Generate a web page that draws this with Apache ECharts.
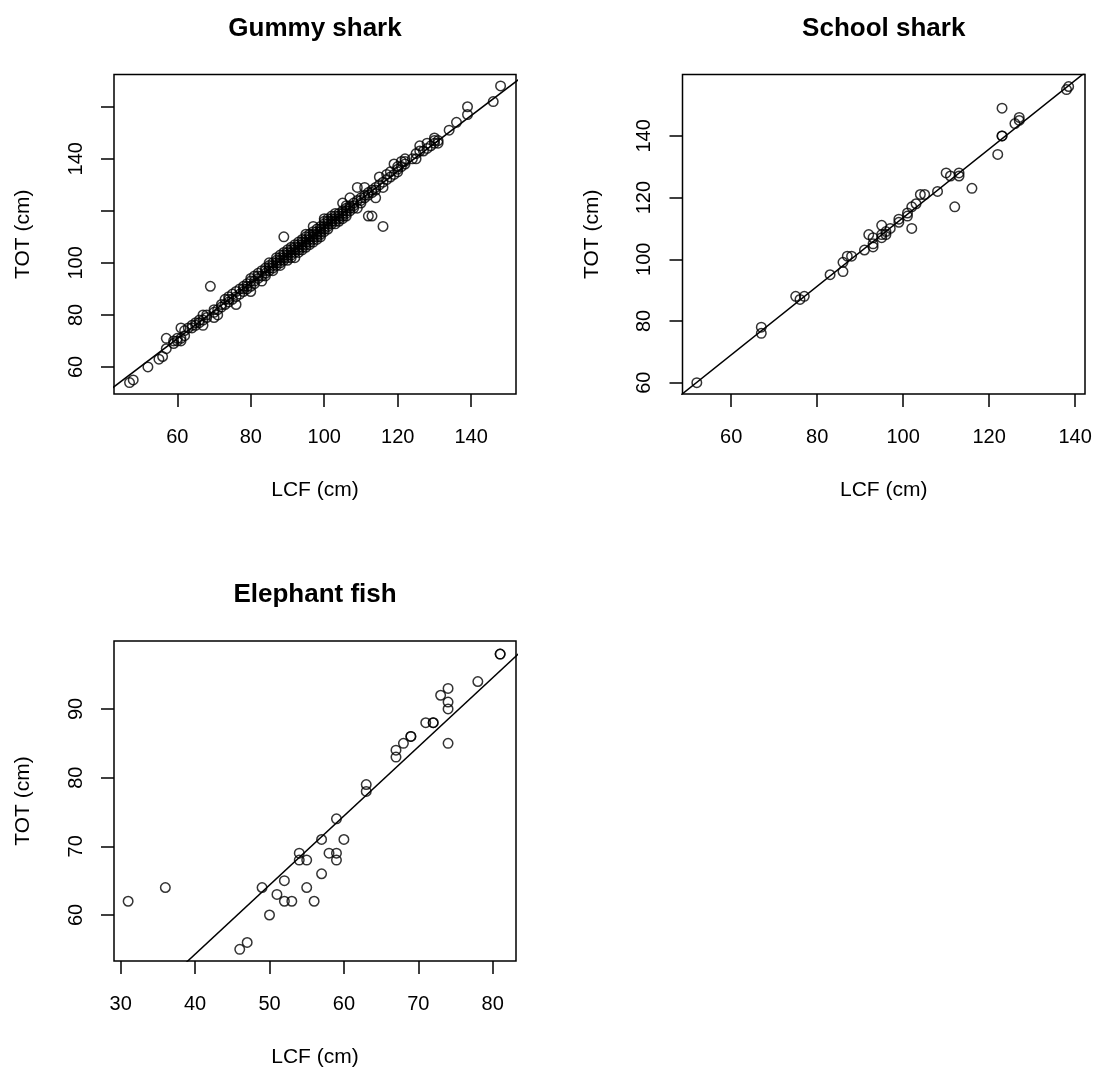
<!DOCTYPE html>
<html>
<head>
<meta charset="utf-8">
<script src="https://cdn.jsdelivr.net/npm/echarts@6/dist/echarts.min.js"></script>
<style>
html,body{margin:0;padding:0;background:#fff;}
#chart{width:1095px;height:1070px;}
</style>
</head>
<body>
<div id="chart"></div>
<script>
// ---------------- DATA ----------------
const panelTitles = ['Gummy shark', 'School shark', 'Elephant fish'];
const xAxisTitle = 'LCF (cm)';
const yAxisTitle = 'TOT (cm)';

// [LCF, TOT] pairs
const gummy = [
  [47,54],[48,55],[52,60],[55,63],[56,64],[57,67],[57,71],[59,69],[59,70],[60,70],[60,71],[61,70],[61,71],[62,72],[61,75],
  [63,75],[64,75],[65,76],[65,77],[66,77],[67,76],[67,78],[68,79],[67,80],[69,91],[70,79],[70,81],[71,82],[71,80],[72,83],
  [73,84],[73,86],[74,85],[74,87],[75,86],[75,88],[76,84],[76,89],[77,88],[77,90],[78,89],[78,91],[79,90],[79,92],[80,89],
  [80,93],[80,94],[81,93],[81,95],[82,94],[82,96],[83,93],[83,95],[83,97],[84,95],[84,97],[84,98],[85,97],[85,99],[85,100],
  [86,97],[86,98],[86,100],[87,99],[87,101],[87,102],[88,100],[88,101],[88,102],[88,103],[89,110],[89,101],[89,103],[89,104],
  [90,102],[90,103],[90,104],[90,105],[91,103],[91,105],[91,106],[92,102],[92,104],[92,106],[92,107],[93,105],[93,107],[93,108],
  [94,106],[94,107],[94,108],[94,109],[95,107],[95,108],[95,110],[95,111],[96,107],[96,109],[96,110],[96,111],[97,109],[97,111],
  [97,112],[97,114],[98,110],[98,111],[98,112],[98,113],[99,111],[99,112],[99,113],[99,114],[100,112],[100,114],[100,115],[100,117],
  [101,114],[101,115],[101,116],[102,115],[102,116],[102,118],[103,116],[103,117],[103,119],[104,116],[104,118],[104,119],[105,117],
  [105,120],[105,123],[106,118],[106,120],[106,121],[107,120],[107,122],[107,125],[108,121],[108,123],[109,121],[109,124],[109,129],
  [110,123],[110,125],[111,125],[111,126],[111,129],[112,118],[113,118],[112,126],[113,127],[114,125],[114,129],[114,128],[115,130],
  [115,133],[116,114],[116,129],[116,131],[117,134],[118,133],[119,134],[119,138],[120,135],[120,137],[121,137],[121,139],[122,139],
  [122,140],[125,140],[125,142],[126,145],[126,143],[127,143],[128,144],[130,147],[130,148],[131,146],[131,147],[134,151],[136,154],
  [139,157],[139,160],[146,162],[148,168],
  [84,96],[85,98],[86,99],[87,100],[88,99],[89,102],[90,101],[91,104],[91,102],[92,105],[93,106],[93,104],[94,105],[95,109],
  [95,106],[96,108],[97,110],[97,108],[98,109],[99,110],[100,113],[100,116],[101,113],[101,117],[102,117],[103,118],[103,115],
  [104,117],[105,119],[105,118],[106,119],[106,122],[107,121],[108,122],[80,91],[81,92],[82,95],[79,91],[78,90],[76,87],[74,86],
  [72,84],[70,82],[68,80],[66,78],[64,76],[62,74],[110,124],[112,127],[113,128],[117,132],[118,135],[120,136],[122,138],
  [124,140],[128,146],[129,145],[130,146]
];
const school = [
  [52,60],[67,78],[67,76],[75,88],[76,87],[77,88],[83,95],[86,99],[86,96],[87,101],[88,101],[91,103],[92,108],[93,107],[93,105],
  [93,104],[95,111],[95,108],[95,107],[96,109],[96,108],[97,110],[99,113],[99,112],[101,115],[101,114],[102,110],[102,117],[103,118],
  [104,121],[105,121],[108,122],[110,128],[111,127],[113,128],[113,127],[112,117],[116,123],[122,134],[123,149],[123,140],[123,140],
  [126,144],[127,145],[127,146],[138,155],[138.5,156]
];
const elephant = [
  [31,62],[36,64],[46,55],[47,56],[49,64],[50,60],[51,63],[52,62],[52,65],[53,62],[54,69],[54,68],[55,68],[55,64],[56,62],
  [57,66],[57,71],[58,69],[59,69],[59,68],[59,74],[60,71],[63,79],[63,78],[67,84],[67,83],[68,85],[69,86],[69,86],[71,88],
  [72,88],[72,88],[73,92],[74,93],[74,91],[74,90],[74,85],[78,94],[81,98],[81,98]
];

// fitted lines: TOT = intercept + slope * LCF
const fitIntercept = [6.55, 2.3, 14.03];
const fitSlope = [1.072, 1.112, 1.0065];

// axis ranges (R style, data range extended 4%)
const xRanges = [[42.77, 152.2], [48.67, 142.3], [29.1, 83.13]];
const yRanges = [[49.6, 172.4], [56.33, 159.9], [53.3, 99.9]];

// ticks and labels
const xTicks = [[60,80,100,120,140], [60,80,100,120,140], [30,40,50,60,70,80]];
const xLabels = [[60,80,100,120,140], [60,80,100,120,140], [30,40,50,60,70,80]];
const yTicks = [[60,80,100,120,140,160], [60,80,100,120,140], [60,70,80,90]];
const yLabels = [[60,80,100,140], [60,80,100,120,140], [60,70,80,90]];

// ---------------- CHART ----------------
const FONT = "'Liberation Sans', Arial, Helvetica, sans-serif";
const grids = [
  {left: 114, top: 74.5, width: 402, height: 319.5},
  {left: 682.5, top: 74.5, width: 402.5, height: 319.5},
  {left: 114, top: 641, width: 402, height: 320}
];
const datasets = [gummy, school, elephant];
const LW = 1.5;

const option = {
  backgroundColor: '#fff',
  animation: false,
  grid: grids.map(g => Object.assign({show: true, borderColor: '#000', borderWidth: LW, backgroundColor: 'transparent', containLabel: false}, g)),
  xAxis: grids.map((g, i) => ({
    type: 'value', gridIndex: i, min: xRanges[i][0], max: xRanges[i][1],
    name: xAxisTitle, nameLocation: 'middle', nameGap: 86,
    nameTextStyle: {fontFamily: FONT, fontSize: 21, color: '#000'},
    axisLine: {show: false},
    splitLine: {show: false},
    axisTick: {show: true, inside: false, length: 13, customValues: xTicks[i], lineStyle: {color: '#000', width: LW}},
    axisLabel: {show: true, margin: 33, customValues: xLabels[i], fontFamily: FONT, fontSize: 20, color: '#000'}
  })),
  yAxis: grids.map((g, i) => ({
    type: 'value', gridIndex: i, min: yRanges[i][0], max: yRanges[i][1],
    name: yAxisTitle, nameLocation: 'middle', nameGap: 80, nameRotate: 90,
    nameTextStyle: {fontFamily: FONT, fontSize: 21, color: '#000'},
    axisLine: {show: false},
    splitLine: {show: false},
    axisTick: {show: true, inside: false, length: 13, customValues: yTicks[i], lineStyle: {color: '#000', width: LW}},
    axisLabel: {show: true, rotate: 90, margin: 28, customValues: yLabels[i], fontFamily: FONT, fontSize: 20, color: '#000'}
  })),
  graphic: panelTitles.map((t, i) => ({
    type: 'text',
    x: grids[i].left + grids[i].width / 2,
    y: grids[i].top - 46,
    style: {text: t, fontFamily: FONT, fontSize: 26, fontWeight: 'bold', fill: '#000', textAlign: 'center', textVerticalAlign: 'middle'}
  })),
  series: []
};

datasets.forEach((d, i) => {
  option.series.push({
    type: 'scatter', xAxisIndex: i, yAxisIndex: i,
    data: d, symbol: 'circle', symbolSize: 9.5,
    itemStyle: {color: 'rgba(0,0,0,0)', borderColor: '#000', borderWidth: LW},
    emphasis: {disabled: true}
  });
  const x0 = xRanges[i][0], x1 = xRanges[i][1];
  option.series.push({
    type: 'line', xAxisIndex: i, yAxisIndex: i, clip: true,
    data: [[x0 - 5, fitIntercept[i] + fitSlope[i] * (x0 - 5)], [x1 + 5, fitIntercept[i] + fitSlope[i] * (x1 + 5)]],
    symbol: 'none', lineStyle: {color: '#000', width: LW},
    emphasis: {disabled: true}
  });
});

const chart = echarts.init(document.getElementById('chart'), null, {renderer: 'canvas'});
chart.setOption(option);
</script>
</body>
</html>
